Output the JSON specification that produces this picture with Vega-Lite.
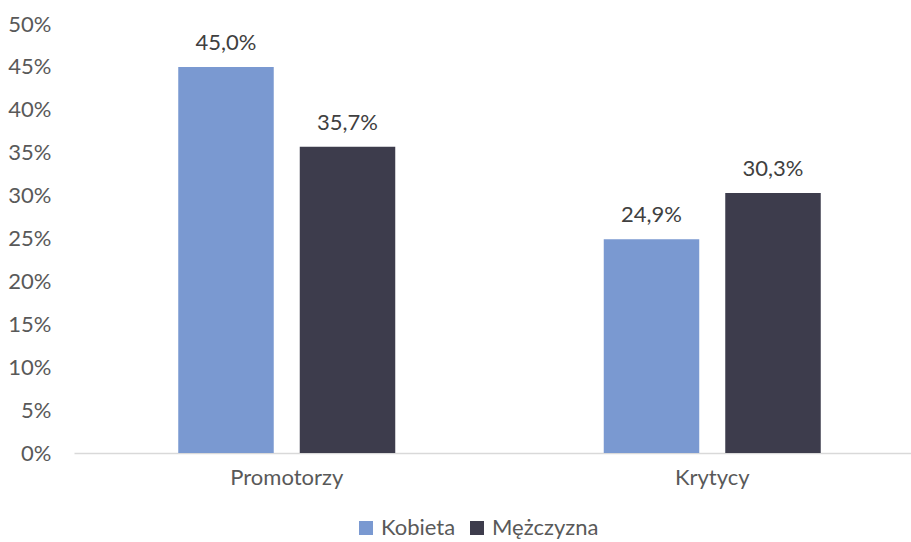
{
  "$schema": "https://vega.github.io/schema/vega-lite/v6.json",
  "width": 837,
  "height": 429,
  "autosize": {"type": "none"},
  "padding": {"left": 74, "top": 24, "right": 0, "bottom": 89},
  "background": "white",
  "config": {
    "locale": {"number": {"decimal": ",", "thousands": " ", "grouping": [3], "currency": ["", " zł"]}},
    "view": {"stroke": null},
    "font": "Lato"
  },
  "data": {
    "values": [
      {"kategoria": "Promotorzy", "plec": "Kobieta", "wartosc": 0.450},
      {"kategoria": "Promotorzy", "plec": "Mężczyzna", "wartosc": 0.357},
      {"kategoria": "Krytycy", "plec": "Kobieta", "wartosc": 0.249},
      {"kategoria": "Krytycy", "plec": "Mężczyzna", "wartosc": 0.303}
    ]
  },
  "encoding": {
    "x": {
      "field": "kategoria", "type": "nominal", "sort": ["Promotorzy", "Krytycy"], "title": null,
      "scale": {"range": [0, 851], "paddingInner": 0, "paddingOuter": 0},
      "axis": {"labelAngle": 0, "labelFontSize": 22, "labelColor": "#595959", "labelPadding": 14, "ticks": false, "domainColor": "#D9D9D9", "domainWidth": 1.5}
    },
    "xOffset": {
      "field": "plec", "type": "nominal", "sort": ["Kobieta", "Mężczyzna"],
      "scale": {"paddingInner": 0.214, "paddingOuter": 0.858}
    },
    "y": {
      "field": "wartosc", "type": "quantitative", "title": null,
      "scale": {"domain": [0, 0.5]},
      "axis": {"format": ".0%", "values": [0, 0.05, 0.1, 0.15, 0.2, 0.25, 0.3, 0.35, 0.4, 0.45, 0.5], "labelOverlap": false, "grid": false, "domain": false, "ticks": false, "labelFontSize": 22, "labelColor": "#595959", "labelPadding": 23}
    }
  },
  "layer": [
    {
      "mark": {"type": "bar"},
      "encoding": {
        "color": {
          "field": "plec", "type": "nominal", "sort": ["Kobieta", "Mężczyzna"],
          "scale": {"domain": ["Kobieta", "Mężczyzna"], "range": ["#7A99D1", "#3D3C4C"]},
          "legend": {"title": null, "orient": "none", "direction": "horizontal", "legendX": 281, "legendY": 493, "symbolType": "square", "symbolSize": 196, "symbolStrokeWidth": 0, "labelFontSize": 22, "labelColor": "#595959", "labelOffset": 4, "columnPadding": 10}
        }
      }
    },
    {
      "mark": {"type": "text", "baseline": "alphabetic", "dy": -17, "fontSize": 22, "color": "#404040"},
      "encoding": {
        "text": {"field": "wartosc", "type": "quantitative", "format": ".1%"}
      }
    }
  ]
}
